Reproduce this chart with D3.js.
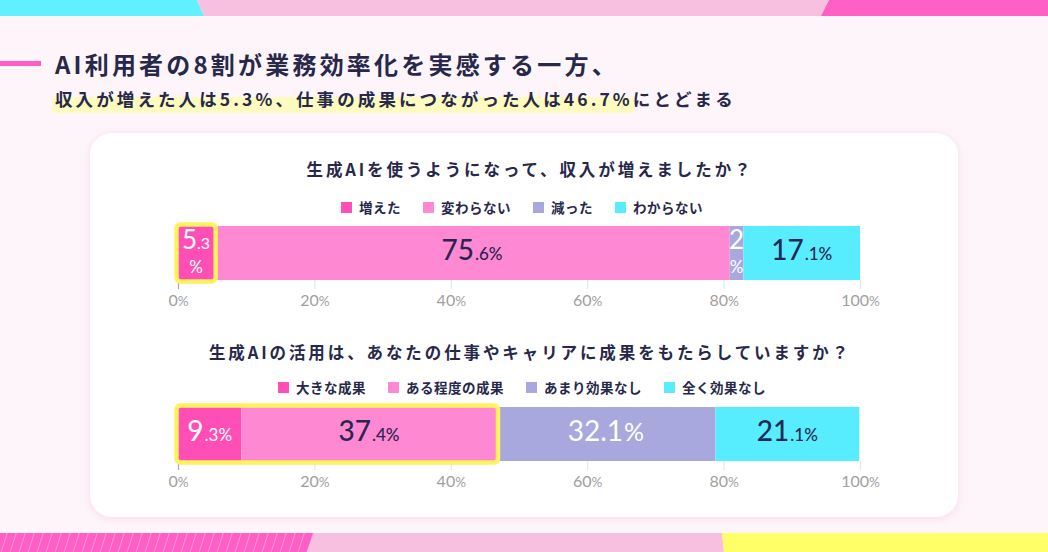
<!DOCTYPE html>
<html><head><meta charset="utf-8">
<script src="https://cdn.jsdelivr.net/npm/d3@7/dist/d3.min.js"></script>
<style>
html,body{margin:0;padding:0;background:#fdf5fa;}
svg{display:block;font-family:"Noto Sans CJK JP","Noto Sans",sans-serif;}
</style></head>
<body><svg id="c" width="1048" height="552"></svg>
<script>
// ---- data ----
const headline1 = "AI利用者の8割が業務効率化を実感する一方、";
const headline2a = "収入が増えた人は5.3%、仕事の成果につながった人は46.7%";
const headline2b = "にとどまる";
const q1Title = "生成AIを使うようになって、収入が増えましたか？";
const q1Categories = ["増えた", "変わらない", "減った", "わからない"];
const q1Values = [5.3, 75.6, 2, 17.1];
const q1SmallDecimal = [true, true, true, true];
const q1Highlight = 5.3;
const q2Title = "生成AIの活用は、あなたの仕事やキャリアに成果をもたらしていますか？";
const q2Categories = ["大きな成果", "ある程度の成果", "あまり効果なし", "全く効果なし"];
const q2Values = [9.3, 37.4, 32.1, 21.1];
const q2SmallDecimal = [true, true, false, true];
const q2Highlight = 46.7;
const tickValues = [0, 20, 40, 60, 80, 100];

const segColors = ["#ff4fb6", "#ff88d2", "#a8a8de", "#58ecff"];
const segText = ["#ffffff", "#2a2550", "#ffffff", "#1f2a55"];
const navy = "#27284a";
const numFont = "Lato, 'Noto Sans', sans-serif";

const svg = d3.select("#c");
const W = 1048, H = 552;

svg.append("rect").attr("width", W).attr("height", H).attr("fill", "#fdf5fa");

const defs = svg.append("defs");
const pat = defs.append("pattern").attr("id", "stripe").attr("patternUnits", "userSpaceOnUse")
  .attr("width", 9).attr("height", 19).attr("patternTransform", "skewX(-18)");
pat.append("rect").attr("width", 9).attr("height", 19).attr("fill", "#ff5fc4");
pat.append("line").attr("x1", 0.5).attr("x2", 0.5).attr("y1", 0).attr("y2", 19)
  .attr("stroke", "#ff9ad8").attr("stroke-width", 1);
const sh = defs.append("filter").attr("id", "sh").attr("x", "-5%").attr("y", "-5%").attr("width", "110%").attr("height", "115%");
sh.append("feDropShadow").attr("dx", 0).attr("dy", 2).attr("stdDeviation", 4)
  .attr("flood-color", "#f3b8d8").attr("flood-opacity", 0.45);

const poly = (pts, fill) => svg.append("polygon").attr("points", pts.map(p => p.join(",")).join(" ")).attr("fill", fill);
poly([[0,0],[197,0],[204,16],[0,16]], "#60f0ff");
poly([[197,0],[829,0],[821,16],[204,16]], "#f7c0e0");
poly([[829,0],[W,0],[W,16],[821,16]], "#ff60c6");
poly([[0,533],[314,533],[307,552],[0,552]], "url(#stripe)");
poly([[314,533],[722,533],[724,552],[307,552]], "#f7c0e0");
poly([[722,533],[W,533],[W,552],[724,552]], "#ffff68");

// headline
svg.append("rect").attr("x", 0).attr("y", 61).attr("width", 41).attr("height", 5).attr("fill", "#ff5fc4");
svg.append("text").attr("x", 55).attr("y", 74).attr("font-size", 24).attr("font-weight", 700)
  .attr("letter-spacing", 3.2).attr("fill", navy).text(headline1);
const h2 = svg.append("g");
const h2hl = h2.append("rect").attr("y", 97).attr("height", 16).attr("fill", "#fdfbbf");
const h2t = h2.append("text").attr("x", 55).attr("y", 106).attr("font-size", 17.5).attr("font-weight", 700)
  .attr("letter-spacing", 3.1).attr("fill", navy);
const h2a = h2t.append("tspan").text(headline2a);
h2t.append("tspan").text(headline2b);
h2hl.attr("x", 52).attr("width", h2a.node().getComputedTextLength() + 55 - 52 + 1);

// card
svg.append("rect").attr("x", 90).attr("y", 133).attr("width", 868).attr("height", 384)
  .attr("rx", 22).attr("fill", "#ffffff").attr("filter", "url(#sh)");

const x = d3.scaleLinear().domain([0, 100]).range([178, 860]);

function splitNum(v) {
  const s = String(v);
  const i = s.indexOf(".");
  return i < 0 ? [s, ""] : [s.slice(0, i), s.slice(i)];
}

function drawChart(title, cats, vals, smallDec, highlight, titleY, legendY, barY) {
  const barH = 54;
  const g = svg.append("g");
  g.append("text").attr("x", 530).attr("y", titleY).attr("dy", "0.35em").attr("text-anchor", "middle")
    .attr("font-size", 16.5).attr("font-weight", 700).attr("letter-spacing", 2.9).attr("fill", navy).text(title);

  // legend
  const lg = g.append("g");
  const items = lg.selectAll("g").data(cats).join("g");
  items.append("rect").attr("width", 11).attr("height", 11).attr("y", -6).attr("fill", (d, i) => segColors[i]);
  items.append("text").attr("x", 18).attr("dy", "0.35em").attr("font-size", 13.5).attr("font-weight", 700)
    .attr("letter-spacing", 0.5).attr("fill", navy).text(d => d);
  let cx = 0; const widths = [];
  items.each(function () { widths.push(18 + d3.select(this).select("text").node().getComputedTextLength()); });
  const gap = 22;
  const total = d3.sum(widths) + gap * (widths.length - 1);
  const start = (x(0) + x(100)) / 2 + 3 - total / 2;
  items.attr("transform", (d, i) => { const t = `translate(${start + cx},${legendY})`; cx += widths[i] + gap; return t; });

  // stacked segments
  let acc = 0;
  const segs = vals.map((v, i) => { const s = { cat: cats[i], v, i, x0: acc, x1: acc + v }; acc += v; return s; });
  g.selectAll("rect.seg").data(segs).join("rect").attr("class", "seg")
    .attr("x", d => x(d.x0)).attr("width", d => x(d.x1) - x(d.x0))
    .attr("y", barY).attr("height", barH).attr("fill", d => segColors[d.i]);

  // axis
  const ax = g.append("g").attr("transform", `translate(0,${barY + barH})`)
    .call(d3.axisBottom(x).tickValues(tickValues).tickSize(9).tickPadding(6).tickFormat(""));
  ax.select(".domain").remove();
  ax.selectAll(".tick line").attr("stroke", (d) => d === 0 ? "#a8a8a8" : "#e6e6e6").attr("stroke-width", 1.2);
  ax.selectAll(".tick text").remove();
  const tt = ax.selectAll(".tick").append("text").attr("y", 22).attr("dy", "0.35em").attr("text-anchor", "middle")
    .attr("fill", "#a0a0a0").attr("font-family", numFont);
  tt.append("tspan").attr("font-size", 16).text(d => d);
  tt.append("tspan").attr("font-size", 13.5).text("%");

  // highlight
  g.append("rect").attr("x", x(0) - 1.5).attr("y", barY - 1.5)
    .attr("width", x(highlight) - x(0) + 3).attr("height", barH + 3).attr("rx", 4)
    .attr("fill", "none").attr("stroke", "#fff25c").attr("stroke-width", 4.5);

  // labels
  segs.forEach(d => {
    const w = x(d.x1) - x(d.x0);
    const cxs = (x(d.x0) + x(d.x1)) / 2;
    const [ip, dp] = splitNum(d.v);
    const col = segText[d.i];
    if (w < 45) {
      const t1 = g.append("text").attr("x", cxs).attr("y", barY + 17).attr("dy", "0.35em")
        .attr("text-anchor", "middle").attr("fill", col).attr("font-family", numFont).attr("font-weight", 400);
      t1.append("tspan").attr("font-size", 26).text(ip);
      if (dp) t1.append("tspan").attr("font-size", 16).text(dp);
      g.append("text").attr("x", cxs).attr("y", barY + 41).attr("dy", "0.35em")
        .attr("text-anchor", "middle").attr("fill", col).attr("font-family", numFont)
        .attr("font-size", 17).attr("font-weight", 400).text("%");
    } else {
      const t = g.append("text").attr("x", cxs).attr("y", barY + barH / 2 + 1).attr("dy", "0.35em")
        .attr("text-anchor", "middle").attr("fill", col).attr("font-family", numFont)
        .attr("font-weight", col === "#ffffff" ? 400 : 500);
      if (smallDec[d.i]) {
        t.append("tspan").attr("font-size", 28).text(ip);
        t.append("tspan").attr("font-size", 17).attr("dx", 1).text(dp + "%");
      } else {
        t.append("tspan").attr("font-size", 28).text(ip + dp);
        t.append("tspan").attr("font-size", 25).attr("dx", 1).text("%");
      }
    }
  });
}

drawChart(q1Title, q1Categories, q1Values, q1SmallDecimal, q1Highlight, 170, 208, 226);
drawChart(q2Title, q2Categories, q2Values, q2SmallDecimal, q2Highlight, 353, 388, 407);
</script></body></html>
